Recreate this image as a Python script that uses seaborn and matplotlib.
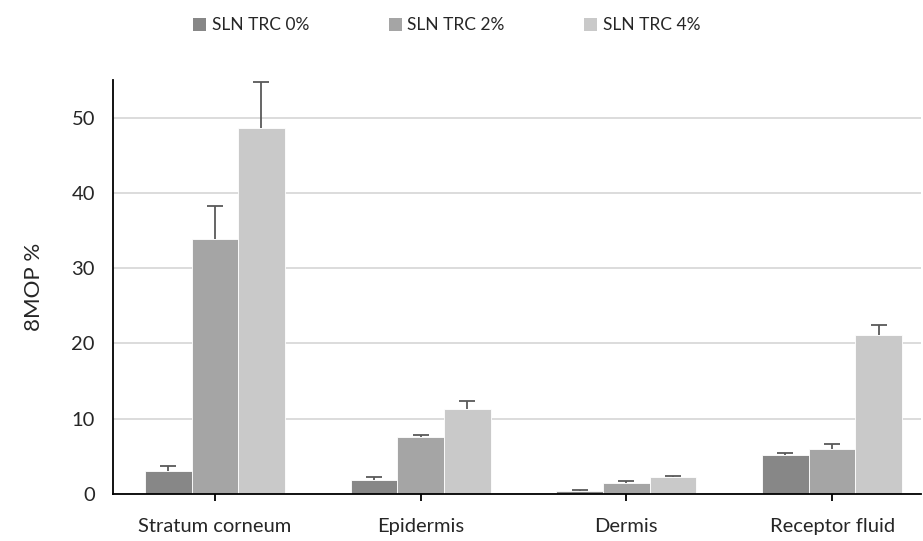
import matplotlib
matplotlib.use("Agg")
import matplotlib.pyplot as plt
import seaborn as sns
import pandas as pd
import numpy as np
from matplotlib.patches import Patch

categories = ["Stratum corneum", "Epidermis", "Dermis", "Receptor fluid"]
series = ["SLN TRC 0%", "SLN TRC 2%", "SLN TRC 4%"]
vals_0 = [3.0, 1.9, 0.4, 5.2]
vals_2 = [33.9, 7.5, 1.45, 6.0]
vals_4 = [48.6, 11.3, 2.25, 21.1]
err_0 = [0.65, 0.3, 0.1, 0.3]
err_2 = [4.4, 0.3, 0.3, 0.6]
err_4 = [6.2, 1.0, 0.15, 1.4]
colors = ["#878787", "#a5a5a5", "#c9c9c9"]

rows = []
for s, v, e in zip(series, [vals_0, vals_2, vals_4], [err_0, err_2, err_4]):
    for c, vi, ei in zip(categories, v, e):
        rows.append({"cat": c, "series": s, "val": vi, "err": ei})
df = pd.DataFrame(rows)

sns.set_theme(style="white")
plt.rcParams["font.family"] = ["Lato", "DejaVu Sans"]

fig = plt.figure(figsize=(9.23, 5.41), dpi=100)
ax = fig.add_axes([0.1224, 0.087, 0.875, 0.765])

sns.barplot(data=df, x="cat", y="val", hue="series", order=categories,
            hue_order=series, palette=colors, width=0.68, gap=0,
            errorbar=None, edgecolor="white", linewidth=0.6, ax=ax, legend=False)

# error bars (upper only) centred on each bar
for i, s in enumerate(series):
    cont = ax.containers[i]
    sub = df[df.series == s].set_index("cat").loc[categories]
    xs = [p.get_x() + p.get_width() / 2 for p in cont.patches]
    ys = [p.get_height() for p in cont.patches]
    eb = ax.errorbar(xs, ys, yerr=[np.zeros(len(xs)), sub["err"].values],
                     fmt="none", ecolor="#595959", elinewidth=1.3, capsize=6,
                     capthick=1.3, zorder=3)
    caps = eb.lines[1]
    if len(caps) >= 1:
        caps[0].set_visible(False)

ax.set_ylim(0, 55)
ax.set_xlim(-0.495, 3.43)
ax.set_yticks([0, 10, 20, 30, 40, 50])
ax.yaxis.grid(True, color="#d9d9d9", linewidth=1.3)
ax.set_axisbelow(True)
for sp in ["top", "right"]:
    ax.spines[sp].set_visible(False)
for sp in ["left", "bottom"]:
    ax.spines[sp].set_color("black")
    ax.spines[sp].set_linewidth(1.3)
ax.tick_params(axis="x", bottom=True, length=5, width=1.3, color="black",
               labelsize=14.5, pad=12, direction="out")
ax.tick_params(axis="y", left=False, labelsize=14.5, pad=7)
ax.set_xlabel("")
ax.set_ylabel("8MOP %", fontsize=16, labelpad=20)

handles = [Patch(facecolor=c, edgecolor="none") for c in colors]
fig.legend(handles, series, loc="center", bbox_to_anchor=(0.484, 0.953), ncol=3,
           frameon=False, fontsize=12.5, handlelength=0.75, handleheight=0.75,
           handletextpad=0.3, columnspacing=4.6)

fig.savefig("out.png", dpi=100)
